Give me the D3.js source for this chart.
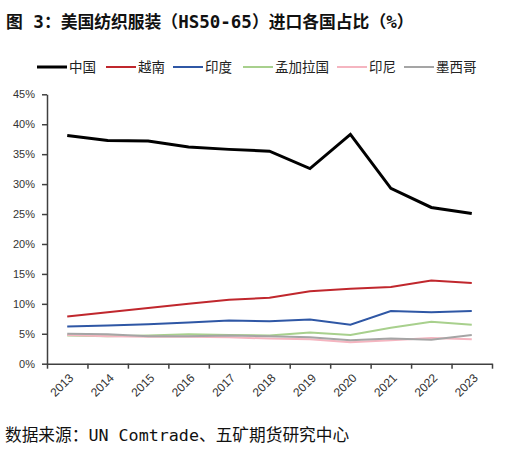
<!DOCTYPE html>
<html><head><meta charset="utf-8">
<script src="https://cdn.jsdelivr.net/npm/d3@7"></script>
<style>
html,body{margin:0;padding:0;background:#fff;}
svg{display:block;}
</style>
</head><body>
<svg id="c" width="528" height="454"></svg>
<script>
const years = ["2013","2014","2015","2016","2017","2018","2019","2020","2021","2022","2023"];
const seriesNames = ["中国","越南","印度","孟加拉国","印尼","墨西哥"];
const china      = [38.1,37.3,37.2,36.2,35.8,35.5,32.6,38.3,29.3,26.1,25.1];
const vietnam    = [7.9,8.6,9.3,10.0,10.7,11.0,12.1,12.5,12.8,13.9,13.5];
const india      = [6.2,6.4,6.6,6.9,7.2,7.1,7.4,6.5,8.8,8.6,8.8];
const bangladesh = [4.7,4.6,4.7,4.9,4.8,4.7,5.2,4.8,6.0,7.0,6.5];
const indonesia  = [4.8,4.6,4.5,4.5,4.4,4.2,4.1,3.6,3.9,4.3,4.1];
const mexico     = [5.0,4.9,4.6,4.6,4.7,4.6,4.4,3.9,4.2,4.0,4.8];
const yTicks = [0,5,10,15,20,25,30,35,40,45];
const titleText = "图 3：美国纺织服装（HS50-65）进口各国占比（%）";
const sourceText = "数据来源：UN Comtrade、五矿期货研究中心";

const seriesValues = [china, vietnam, india, bangladesh, indonesia, mexico];
const colors = ["#000000","#c0272d","#2f57a5","#a8d08d","#f5b5c0","#a5a5a5"];
const widths = [3,2,2,2,2,2];

const svg = d3.select("#c");
const L = 47, R = 492, T = 94.3, B = 363.7;

const x = d3.scaleBand().domain(years).range([L, R]).padding(0);
const xb = d3.scaleLinear().domain([0, years.length]).range([L, R]);
const y = d3.scaleLinear().domain([0, 45]).range([B, T]);
const cx = d => x(d) + x.bandwidth()/2;

function mixedText(sel, str, cjkSize, asciiSize) {
  const runs = str.match(/[\x20-\x7e]+|[^\x20-\x7e]+/g);
  runs.forEach(r => {
    const ascii = /^[\x20-\x7e]+$/.test(r);
    sel.append("tspan")
      .attr("font-family", ascii ? "'DejaVu Sans Mono'" : "'Noto Sans CJK SC'")
      .attr("font-size", ascii ? asciiSize : cjkSize)
      .text(r);
  });
}

// title
const tt = svg.append("text").attr("x",6).attr("y",28)
  .attr("font-weight","bold").attr("fill","#111")
  .style("white-space","pre");
mixedText(tt, titleText, 16.8, 17.5);

// source
const st = svg.append("text").attr("x",5).attr("y",441)
  .attr("fill","#111").style("white-space","pre");
mixedText(st, sourceText, 16.7, 16.7);

// y axis
const ya = svg.append("g").attr("transform",`translate(${L},0)`)
  .call(d3.axisLeft(y).tickValues(yTicks).tickFormat(d=>d+"%").tickSize(5).tickSizeOuter(0));
ya.selectAll("path,line").attr("stroke","#404040").attr("stroke-width",1.5);
ya.selectAll("text").attr("font-family","'Liberation Sans'").attr("font-size",11)
  .attr("fill","#333").attr("x",-12);

// x axis ticks at category boundaries
const xa = svg.append("g").attr("transform",`translate(0,${B})`)
  .call(d3.axisBottom(xb).ticks(years.length).tickFormat("").tickSize(5).tickSizeOuter(0));
xa.selectAll("path,line").attr("stroke","#404040").attr("stroke-width",1.5);

// x labels
const xl = svg.append("g").attr("transform",`translate(0,${B})`)
  .call(d3.axisBottom(x).tickSize(0));
xl.select(".domain").remove();
xl.selectAll("text").attr("font-family","'Liberation Sans'").attr("font-size",12).attr("fill","#333")
  .attr("text-anchor","end").attr("y",0).attr("dy","0.35em")
  .attr("transform","translate(4,12) rotate(-45)");

// lines
const line = d3.line().x((d,i)=>cx(years[i])).y(d=>y(d));
seriesValues.forEach((vals, k) => {
  svg.append("path").datum(vals).attr("d", line)
    .attr("fill","none").attr("stroke",colors[k]).attr("stroke-width",widths[k])
    .attr("stroke-linejoin","miter");
});

// legend
const legX = [37,106,173,243,337,404];
const lg = svg.append("g");
seriesNames.forEach((n,k)=>{
  lg.append("line").attr("x1",legX[k]).attr("x2",legX[k]+30).attr("y1",67).attr("y2",67)
    .attr("stroke",colors[k]).attr("stroke-width",widths[k]);
  lg.append("text").attr("x",legX[k]+32).attr("y",67).attr("dy","0.36em")
    .attr("font-family","'Noto Sans CJK SC'").attr("font-size",13.5).attr("fill","#222").text(n);
});
</script>
</body></html>
